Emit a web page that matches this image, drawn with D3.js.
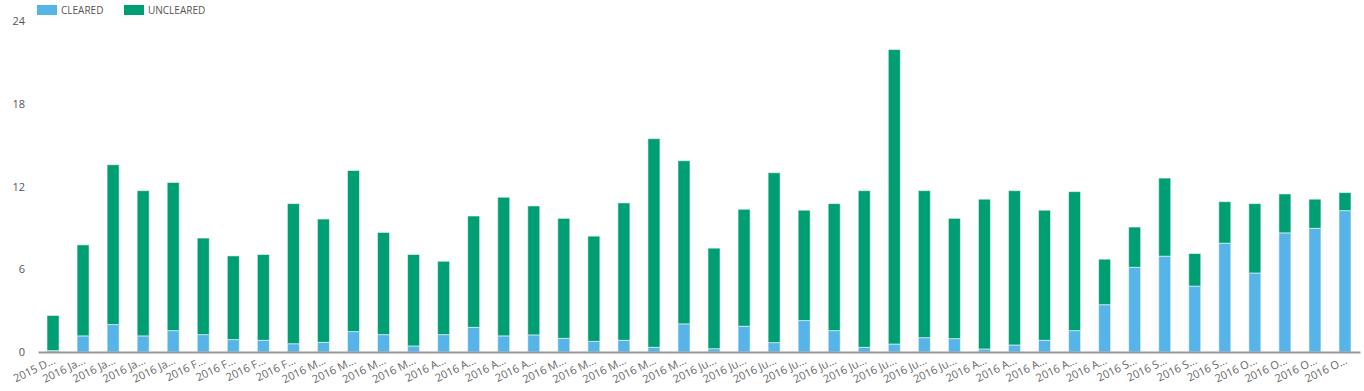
<!DOCTYPE html>
<html>
<head>
<meta charset="utf-8">
<script src="https://cdn.jsdelivr.net/npm/d3@7"></script>
<style>
  body { margin: 0; background: #fff; }
  text { font-family: "Open Sans", "DejaVu Sans", sans-serif; }
</style>
</head>
<body>
<script>
// weekly labels (truncated as in the original)
var categories = ["2015 D...", "2016 Ja...", "2016 Ja...", "2016 Ja...", "2016 Ja...",
  "2016 F...", "2016 F...", "2016 F...", "2016 F...",
  "2016 M...", "2016 M...", "2016 M...", "2016 M...",
  "2016 A...", "2016 A...", "2016 A...", "2016 A...",
  "2016 M...", "2016 M...", "2016 M...", "2016 M...", "2016 M...",
  "2016 Ju...", "2016 Ju...", "2016 Ju...", "2016 Ju...", "2016 Ju...",
  "2016 Ju...", "2016 Ju...", "2016 Ju...", "2016 Ju...",
  "2016 A...", "2016 A...", "2016 A...", "2016 A...", "2016 A...",
  "2016 S...", "2016 S...", "2016 S...", "2016 S...",
  "2016 O...", "2016 O...", "2016 O...", "2016 O..."];

var cleared = [0.1, 1.17, 1.99, 1.17, 1.55, 1.26, 0.9, 0.85, 0.6, 0.7,
  1.48, 1.26, 0.44, 1.26, 1.79, 1.17, 1.24, 0.99, 0.77, 0.85,
  0.34, 2.04, 0.24, 1.87, 0.68, 2.28, 1.55, 0.34, 0.58, 1.04,
  0.97, 0.22, 0.51, 0.85, 1.55, 3.43, 6.14, 6.95, 4.78, 7.89,
  5.73, 8.64, 8.97, 10.25];

var uncleared = [2.55, 6.6, 11.59, 10.53, 10.74, 7.0, 6.07, 6.22, 10.16, 8.94,
  11.68, 7.41, 6.63, 5.32, 8.07, 10.05, 9.35, 8.7, 7.63, 9.96,
  15.13, 11.83, 7.29, 8.48, 12.32, 8.0, 9.21, 11.36, 21.35, 10.66,
  8.72, 10.86, 11.19, 9.43, 10.08, 3.3, 2.92, 5.66, 2.36, 3.01,
  5.03, 2.82, 2.11, 1.31];

var yTicks = [0, 6, 12, 18, 24];
var seriesNames = ["CLEARED", "UNCLEARED"];
var colors = ["#56b4e9", "#009e73"];

var W = 1364, H = 391;
var plotLeft = 38, plotRight = 1360, plotTop = 21, plotBottom = 352;

var svg = d3.select("body").append("svg")
    .attr("width", W)
    .attr("height", H);

var x = d3.scaleBand()
    .domain(d3.range(categories.length))
    .range([plotLeft, plotRight])
    .paddingInner(0.6)
    .paddingOuter(0.3);

var y = d3.scaleLinear().domain([0, 24]).range([plotBottom, plotTop]);

var rows = categories.map(function(c, i) {
    return { i: i, CLEARED: cleared[i], UNCLEARED: uncleared[i] };
});
var stacked = d3.stack().keys(seriesNames)(rows);

// bars
svg.selectAll(".series")
    .data(stacked)
    .enter().append("g")
    .attr("class", "series")
    .attr("fill", function(d, i) { return colors[i]; })
    .selectAll("rect")
    .data(function(d) { return d; })
    .enter().append("rect")
    .attr("x", function(d) { return x(d.data.i); })
    .attr("y", function(d) { return y(d[1]); })
    .attr("width", x.bandwidth())
    .attr("height", function(d) { return y(d[0]) - y(d[1]); })
    .attr("stroke", "rgba(255,255,255,0.55)")
    .attr("stroke-width", 1);

// x axis
var xAxis = svg.append("g")
    .attr("transform", "translate(0," + plotBottom + ")")
    .call(d3.axisBottom(x).tickSize(0).tickFormat(function(i) { return categories[i]; }));
xAxis.select(".domain").attr("stroke", "#999").attr("stroke-width", 2);
xAxis.selectAll("text")
    .attr("fill", "#666")
    .attr("font-size", 11)
    .attr("text-anchor", "end")
    .attr("dy", 0)
    .attr("y", 0)
    .attr("transform", "translate(3,11) rotate(-26)");

// y axis
var yAxis = svg.append("g")
    .attr("transform", "translate(" + (plotLeft - 10) + ",0)")
    .call(d3.axisLeft(y).tickValues(yTicks).tickSize(0));
yAxis.select(".domain").remove();
yAxis.selectAll("text")
    .attr("fill", "#555")
    .attr("font-size", 11);

// legend
var legend = svg.append("g").selectAll("g")
    .data(seriesNames)
    .enter().append("g")
    .attr("transform", function(d, i) { return "translate(" + (37 + i * 87) + ",5)"; });
legend.append("rect")
    .attr("width", 20)
    .attr("height", 10)
    .attr("fill", function(d, i) { return colors[i]; });
legend.append("text")
    .attr("x", 24)
    .attr("y", 9)
    .attr("font-size", 10)
    .attr("fill", "#555")
    .text(function(d) { return d; });
</script>
</body>
</html>
